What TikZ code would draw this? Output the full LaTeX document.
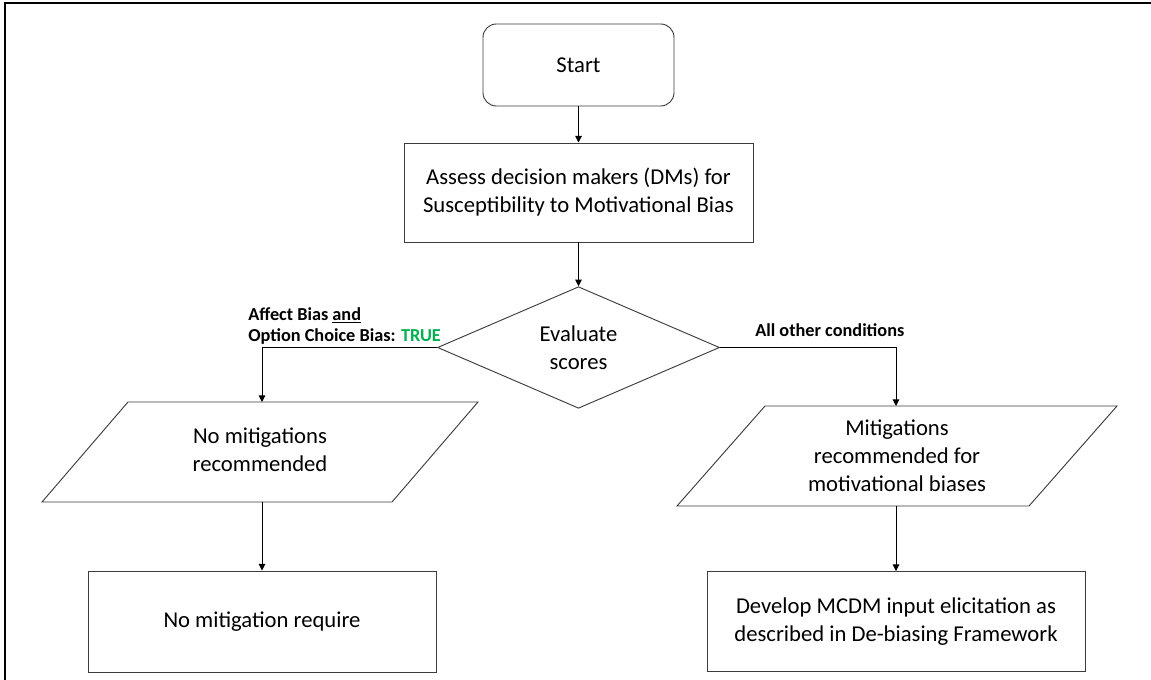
\documentclass[tikz,border=0pt]{standalone}
\usepackage{fontspec}
\setmainfont{Carlito}
\usetikzlibrary{shapes.geometric,arrows.meta}
\definecolor{truegreen}{RGB}{0,176,80}
\definecolor{edgegray}{RGB}{60,60,60}
\begin{document}
\begin{tikzpicture}[x=0.75pt,y=-0.75pt,
  shapeline/.style={draw=edgegray, line width=0.7pt},
  box/.style={shapeline, align=center, inner sep=0pt, font=\fontsize{17}{21}\selectfont},
  txt/.style={align=center, inner sep=0pt, font=\fontsize{17}{21}\selectfont},
  lbl/.style={inner sep=0pt, font=\fontsize{13.7}{16}\selectfont\bfseries},
  conn/.style={draw=black, line width=0.7pt, -{Triangle[length=5pt,width=5pt]}},
]
\useasboundingbox (0,0) rectangle (1151,680);
% outer frame (left and top edges visible)
\draw[line width=2.2pt] (5,680) -- (5,3) -- (1151,3);

% nodes
\node[box, rounded corners=10pt, minimum width=143.25pt, minimum height=61.5pt] (start) at (578.5,65) {Start};
\node[box, minimum width=261.75pt, minimum height=74.25pt] (assess) at (578.5,192.5) {Assess decision makers (DMs) for\\Susceptibility to Motivational Bias};
\node[box, diamond, minimum width=211.5pt, minimum height=87.75pt] (eval) at (578.5,347.5) {Evaluate\\scores};

% left parallelogram
\draw[shapeline] (42,502) -- (128,402) -- (478,402) -- (392,502) -- cycle;
\coordinate (p1top) at (262,402);
\coordinate (p1bot) at (262,502);
\node[txt] (p1) at (260,450) {No mitigations\\recommended};

% right parallelogram
\draw[shapeline] (677,506) -- (765,406) -- (1117,406) -- (1029,506) -- cycle;
\coordinate (p2top) at (896,406);
\coordinate (p2bot) at (896,506);
\node[txt] (p2) at (897,456) {Mitigations\\recommended for\\motivational biases};

% bottom boxes
\node[box, minimum width=261pt, minimum height=75.75pt] (b1) at (262,621.5) {No mitigation require};
\node[box, minimum width=283.5pt, minimum height=75pt] (b2) at (896,621.5) {Develop MCDM input elicitation as\\described in De-biasing Framework};

% connectors
\draw[conn] (start) -- (assess);
\draw[conn] (assess) -- (eval);
\draw[conn] (eval.west) -| (p1top);
\draw[conn] (eval.east) -| (p2top);
\draw[conn] (p1bot) -- (b1.north);
\draw[conn] (p2bot) -- (b2.north);

% labels
\node[lbl, anchor=base west] (la) at (248,320.7) {Affect Bias \underline{and}};
\node[lbl, anchor=base west] (lb) at (248,341.7) {Option Choice Bias: \textcolor{truegreen}{TRUE}};
\node[lbl, anchor=base west] (lc) at (755,337) {All other conditions};
\end{tikzpicture}
\end{document}
